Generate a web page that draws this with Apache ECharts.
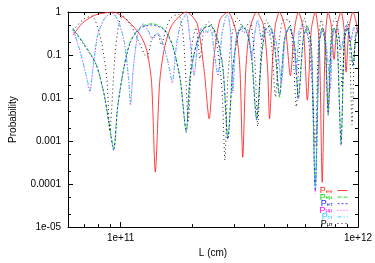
<!DOCTYPE html>
<html>
<head>
<meta charset="utf-8">
<script src="https://cdn.jsdelivr.net/npm/echarts/dist/echarts.min.js"></script>
<style>
  html, body { margin: 0; padding: 0; background: #fff; }
  #chart { width: 375px; height: 263px; }
</style>
</head>
<body>
<div id="chart"></div>
<script>
// baseline L, in units of 1e10 cm
const eeL = [6.30, 6.93, 7.86, 9.35, 10.8, 12.1, 12.9, 13.5, 14.0, 14.6, 15.3, 16.5, 18.9, 21.0, 22.5, 23.6, 24.7, 26.2,
  28.3, 30.6, 31.8, 32.7, 33.7, 35.0, 37.4, 40.0, 41.6, 42.4, 43.7, 44.9, 46.7, 49.5, 51.9, 54.0, 56.1, 58.9, 61.2, 63.6,
  66.1, 68.7, 70.7, 72.8, 74.9, 77.1, 79.3, 81.7, 84.9, 87.4, 89.1, 91.7, 95.3, 98.1, 100]
const eeP = [0.29, 0.565, 0.86, 1.0, 0.595, 0.29, 0.126, 0.023, 1.9e-4, 0.023, 0.147, 0.51, 1.0, 0.537, 0.042, 0.0033, 0.083, 0.66,
  1.0, 0.354, 0.049, 4.2e-4, 0.049, 0.393, 1.0, 0.484, 0.049, 0.0033, 0.083, 0.51, 1.0, 0.393, 0.033, 0.393, 1.0, 0.393, 0.0089, 0.393,
  1.0, 0.181, 1.1e-4, 0.234, 1.0, 0.51, 0.079, 0.51, 1.0, 0.393, 0.040, 0.436, 1.0, 0.595, 0.303]

// P(e->mu) and P(e->tau) share the same L samples
const eL = [6.30, 6.93, 7.86, 8.49, 8.91, 9.35, 9.71, 10.3, 11.0, 12.1, 13.6, 15.3, 16.5, 17.8, 18.9, 19.6, 21.0, 22.5, 24.0, 25.5,
  27.0, 28.3, 29.7, 31.2, 32.7, 34.3, 35.7, 37.4, 39.3, 40.8, 42.4, 44.5, 46.7, 49.0, 51.4, 54.0, 56.1, 58.9, 61.2, 63.6,
  66.1, 68.7, 70.7, 72.8, 74.9, 77.1, 79.3, 81.7, 84.9, 87.4, 90.0, 92.6, 95.3, 98.1, 100]
const emuP = [0.414, 0.200, 0.064, 0.0135, 0.0029, 6.6e-4, 0.0062, 0.049, 0.211, 0.436, 0.537, 0.393, 0.181, 0.029, 0.0017, 0.029, 0.211, 0.436, 0.484, 0.26,
  0.049, 0.0012, 0.049, 0.303, 0.484, 0.303, 0.083, 0.0033, 0.107, 0.393, 0.484, 0.181, 0.0105, 0.234, 0.46, 0.181, 0.0105, 0.26, 0.46, 0.181,
  9.8e-5, 0.181, 0.436, 0.181, 0.0043, 0.181, 0.436, 0.234, 8.6e-4, 0.181, 0.436, 0.234, 0.058, 0.303, 0.393]
const etauP = [0.40, 0.19, 0.062, 0.013, 0.0028, 6.0e-4, 0.006, 0.047, 0.2, 0.42, 0.5, 0.38, 0.17, 0.028, 0.0016, 0.03, 0.2, 0.42, 0.47, 0.25,
  0.047, 0.0011, 0.05, 0.29, 0.47, 0.29, 0.08, 0.0031, 0.1, 0.38, 0.47, 0.17, 0.0115, 0.22, 0.44, 0.17, 0.0095, 0.25, 0.44, 0.17,
  7.0e-5, 0.17, 0.42, 0.17, 0.004, 0.17, 0.42, 0.22, 8.0e-4, 0.17, 0.42, 0.22, 0.055, 0.29, 0.38]

// P(mu->mu) and P(tau->tau) share the same L samples
const mL = [6.30, 6.80, 7.21, 7.42, 7.64, 8.01, 8.57, 9.17, 9.81, 10.4, 10.8, 11.0, 11.3, 11.8, 12.4, 13.0, 13.6, 14.3, 15.1, 15.9,
  16.5, 17.2, 18.0, 18.9, 19.6, 20.4, 21.2, 22.0, 23.1, 24.0, 24.7, 25.7, 26.7, 27.8, 28.3, 29.1, 29.7, 30.6, 31.8, 33.0,
  34.3, 35.7, 36.7, 37.8, 39.3, 40.8, 42.4, 43.7, 45.8, 47.6, 49.5, 51.4, 53.5, 55.0, 56.6, 58.9, 61.2, 63.6, 66.1, 68.7,
  71.4, 74.2, 76.4, 78.6, 81.7, 84.9, 87.4, 90.0, 93.5, 96.2, 100]
const mumuP = [0.40, 0.10, 0.027, 0.014, 0.047, 0.29, 0.70, 0.96, 0.57, 0.17,
  0.027, 0.0068, 0.046, 0.29, 0.51, 0.37, 0.23, 0.32, 0.17, 0.06,
  0.022, 0.17, 0.56, 0.86, 0.22, 0.033, 0.22, 0.41, 0.33, 0.37,
  0.13, 0.033, 0.29, 0.78, 0.82, 0.29, 0.013, 0.22, 0.41, 0.33,
  0.37, 0.08, 0.29, 0.62, 0.22, 0.41, 0.29, 0.37, 0.13, 0.022,
  0.29, 0.41, 0.22, 0.034, 0.37, 0.48, 0.29, 0.13, 6.0e-5, 0.22,
  0.37, 0.1, 0.016, 0.29, 0.41, 0.13, 0.29, 0.48, 0.22, 0.41, 0.37]
const tautauP = [0.414, 0.107, 0.029, 0.015, 0.049, 0.303, 0.733, 1.0, 0.595, 0.181,
  0.029, 0.0076, 0.049, 0.303, 0.537, 0.393, 0.246, 0.336, 0.181, 0.064,
  0.024, 0.181, 0.595, 0.90, 0.234, 0.036, 0.234, 0.436, 0.354, 0.393,
  0.139, 0.036, 0.303, 0.813, 0.856, 0.303, 0.015, 0.234, 0.436, 0.354,
  0.393, 0.087, 0.303, 0.66, 0.234, 0.436, 0.303, 0.393, 0.139, 0.025,
  0.303, 0.436, 0.234, 0.038, 0.393, 0.51, 0.303, 0.139, 7.5e-5, 0.234,
  0.393, 0.107, 0.0175, 0.303, 0.436, 0.139, 0.303, 0.51, 0.234, 0.436, 0.393]

const mutauL = [6.30, 6.93, 7.56, 8.25, 8.74, 9.00, 9.44, 9.81, 10.2, 11.0, 11.8, 12.9, 13.6, 14.3, 14.8, 15.6, 16.3, 17.5, 18.4, 19.3,
  20.0, 20.8, 21.6, 22.5, 23.6, 25.2, 26.7, 27.5, 28.3, 29.7, 31.2, 33.0, 35.0, 36.7, 37.8, 39.3, 41.2, 43.2, 44.9, 46.7,
  48.6, 51.0, 53.0, 55.0, 57.2, 59.4, 61.8, 64.2, 66.1, 68.0, 70.0, 72.8, 74.9, 77.1, 80.1, 83.3, 85.7, 88.2, 90.8, 92.6,
  94.4, 97.1, 100]
const mutauP = [0.373, 0.66, 0.813, 0.234, 0.029, 0.0017, 0.083, 0.51, 0.813, 0.51, 0.234, 0.087, 0.26, 0.303, 0.172, 0.436, 0.733, 0.90, 0.234, 0.0029,
  0.181, 0.436, 0.083, 0.436, 0.595, 0.234, 0.0175, 3.6e-4, 0.029, 0.393, 0.733, 0.393, 0.595, 0.083, 0.0022, 0.234, 0.66, 0.181, 0.0105, 0.234,
  0.66, 0.66, 0.181, 0.0062, 0.303, 0.733, 0.234, 0.0175, 7.8e-4, 0.139, 0.66, 0.234, 0.0062, 0.303, 0.733, 0.234, 0.0175, 0.393, 0.595, 0.083,
  0.0024, 0.234, 0.51]

const names = ['Pee', 'Peμ', 'Peτ', 'Pμμ', 'Pττ', 'Pμτ']
const colors = ['#ff2020', '#00dd00', '#2020ff', '#ff00ff', '#22ccff', '#000000']
const dashes = ['solid', [4, 2], [2, 2], [1, 2], [4, 2, 1, 2], [1, 3]]

const xMinorTicks = [7, 8, 9, 20, 30, 40, 50, 60, 70, 80, 90]
const yMinorTicks = [2e-5, 5e-5, 2e-4, 5e-4, 0.002, 0.005, 0.02, 0.05, 0.2, 0.5]

const xMin = 6e10
const xMax = 1e12
const yMin = 1e-5
const yMax = 1
const font = 'Liberation Sans, Arial, sans-serif'

function pairs(L, P) {
  return L.map((l, i) => [l * 1e10, P[i]])
}

function isDecade(v) {
  const e = Math.log10(v)
  return Math.abs(e - Math.round(e)) < 1e-6
}

function yLabel(v) {
  if (!isDecade(v)) return ''
  const e = Math.round(Math.log10(v))
  if (e >= -4) return e >= 0 ? String(Math.pow(10, e)) : v.toFixed(-e)
  return '1e-' + String(-e).padStart(2, '0')
}

function xLabel(v) {
  if (!isDecade(v)) return ''
  return '1e+' + Math.round(Math.log10(v))
}

const curves = [
  pairs(eeL, eeP),
  pairs(eL, emuP),
  pairs(eL, etauP),
  pairs(mL, mumuP),
  pairs(mL, tautauP),
  pairs(mutauL, mutauP)
]

const lineSeries = curves.map((data, i) => ({
  name: names[i],
  type: 'line',
  data: data,
  symbol: 'none',
  smooth: 0.25,
  lineStyle: { width: 1, color: colors[i], type: dashes[i], opacity: 0.85 },
  itemStyle: { color: colors[i] },
  z: 2 + i
}))

const tickStyle = { stroke: '#000', lineWidth: 1 }

const minorTickSeries = [{
  type: 'custom',
  silent: true,
  clip: false,
  data: xMinorTicks.map(v => [v * 1e10, yMin]),
  renderItem(params, api) {
    const b = api.coord([api.value(0), yMin])
    const t = api.coord([api.value(0), yMax])
    const x = Math.round(b[0]) + 0.5
    return {
      type: 'group',
      children: [
        { type: 'line', shape: { x1: x, y1: b[1], x2: x, y2: b[1] - 3 }, style: tickStyle },
        { type: 'line', shape: { x1: x, y1: t[1], x2: x, y2: t[1] + 3 }, style: tickStyle }
      ]
    }
  },
  z: 10
}, {
  type: 'custom',
  silent: true,
  clip: false,
  data: yMinorTicks.map(v => [xMin, v]),
  renderItem(params, api) {
    const l = api.coord([xMin, api.value(1)])
    const r = api.coord([xMax, api.value(1)])
    const y = Math.round(l[1]) + 0.5
    return {
      type: 'group',
      children: [
        { type: 'line', shape: { x1: l[0], y1: y, x2: l[0] + 3, y2: y }, style: tickStyle },
        { type: 'line', shape: { x1: r[0], y1: y, x2: r[0] - 3, y2: y }, style: tickStyle }
      ]
    }
  },
  z: 10
}]

const axisLine = { show: true, lineStyle: { color: '#000', width: 1 } }
const axisTick = { show: true, inside: true, length: 5, lineStyle: { color: '#000' } }

const chart = echarts.init(document.getElementById('chart'))
chart.setOption({
  animation: false,
  backgroundColor: '#fff',
  grid: { left: 67, right: 16, top: 12, bottom: 30 },
  legend: {
    orient: 'vertical',
    right: 27,
    top: 186,
    padding: 0,
    align: 'right',
    itemWidth: 10,
    itemHeight: 5,
    itemGap: -2.4,
    itemStyle: { color: 'rgba(0,0,0,0)', borderWidth: 0, opacity: 0 },
    lineStyle: { width: 1 },
    data: names.map((n, i) => ({ name: n, textStyle: { color: colors[i] } })),
    formatter: n => '{p|P}{s|' + n.slice(1) + '}',
    textStyle: {
      fontFamily: font,
      rich: {
        p: { fontSize: 9, lineHeight: 7, fontFamily: font },
        s: { fontSize: 6, lineHeight: 7, verticalAlign: 'bottom', fontFamily: font }
      }
    }
  },
  xAxis: [{
    type: 'log',
    min: xMin,
    max: xMax,
    name: 'L (cm)',
    nameLocation: 'middle',
    nameGap: 19,
    nameTextStyle: { fontFamily: font, fontSize: 10, color: '#000' },
    axisLine,
    axisTick,
    axisLabel: { formatter: xLabel, margin: 6, fontFamily: font, fontSize: 10, color: '#000', showMinLabel: false },
    splitLine: { show: false }
  }, {
    type: 'log',
    min: xMin,
    max: xMax,
    position: 'top',
    axisLine,
    axisTick,
    axisLabel: { show: false },
    splitLine: { show: false }
  }],
  yAxis: [{
    type: 'log',
    min: yMin,
    max: yMax,
    name: 'Probability',
    nameLocation: 'middle',
    nameRotate: 90,
    nameGap: 50,
    nameTextStyle: { fontFamily: font, fontSize: 10, color: '#000' },
    axisLine,
    axisTick,
    axisLabel: { formatter: yLabel, margin: 7, fontFamily: font, fontSize: 10, color: '#000' },
    splitLine: { show: false }
  }, {
    type: 'log',
    min: yMin,
    max: yMax,
    position: 'right',
    axisLine,
    axisTick,
    axisLabel: { show: false },
    splitLine: { show: false }
  }],
  series: lineSeries.concat(minorTickSeries)
})
</script>
</body>
</html>
